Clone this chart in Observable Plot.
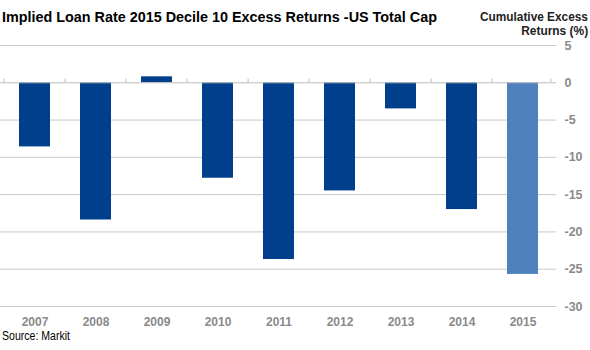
<!DOCTYPE html>
<html>
<head>
<meta charset="utf-8">
<script src="https://cdn.jsdelivr.net/npm/d3@7"></script>
<script src="https://cdn.jsdelivr.net/npm/@observablehq/plot@0.6"></script>
<style>
  body { margin: 0; background: #fff; font-family: "Liberation Sans", Arial, sans-serif; }
  #wrap { position: relative; width: 590px; height: 350px; overflow: hidden; }
  #wrap svg { position: absolute; left: 0; top: 0; }
  .txt { position: absolute; white-space: nowrap; }
  #title { left: 2px; top: 9px; font-size: 14.5px; font-weight: bold; color: #000; transform-origin: 0 0; }
  #unit1 { right: 2px; top: 11px; font-size: 12.5px; line-height: 12px; font-weight: bold; color: #222; transform-origin: 100% 0; }
  #unit2 { right: 2px; top: 25px; font-size: 12.5px; line-height: 12px; font-weight: bold; color: #222; transform-origin: 100% 0; }
  #source { left: 2px; top: 329px; font-size: 12.5px; color: #000; transform-origin: 0 0; }
</style>
</head>
<body>
<div id="wrap"></div>
<script>
const years = ["2007","2008","2009","2010","2011","2012","2013","2014","2015"];
const values = [-8.6, -18.4, 0.8, -12.8, -23.7, -14.5, -3.5, -17.0, -25.7];
const yTicks = [5, 0, -5, -10, -15, -20, -25, -30];
const titleText = "Implied Loan Rate 2015 Decile 10 Excess Returns -US Total Cap";
const unitLines = ["Cumulative Excess", "Returns (%)"];
const sourceText = "Source: Markit";
const darkBlue = "#003f8c";
const lightBlue = "#4f81bd";

const data = years.map((y, i) => ({year: y, value: values[i]}));
const W = 590, H = 350, mL = 0, mR = 34;
const step = (W - mL - mR) / years.length;

const chart = Plot.plot({
  width: W,
  height: H,
  marginTop: 45,
  marginBottom: 44,
  marginLeft: mL,
  marginRight: mR,
  style: {fontFamily: "'Liberation Sans', Arial, sans-serif", background: "transparent"},
  x: {domain: years, paddingInner: 0.5, paddingOuter: 0.25},
  y: {domain: [-30, 5]},
  marks: [
    Plot.ruleY(yTicks.filter(d => d !== 0), {stroke: "#c8c8c8", strokeWidth: 1}),
    Plot.barY(data, {x: "year", y: "value", fill: d => d.year === "2015" ? lightBlue : darkBlue}),
    Plot.ruleY([0], {stroke: "#bdbdbd", strokeWidth: 1}),
    Plot.ruleX(years, {x: d => d, y1: 0, y2: 0.5, dx: -step / 2, stroke: "#bdbdbd"}),
    Plot.ruleX([years[years.length - 1]], {x: d => d, y1: 0, y2: 0.5, dx: step / 2 - 3, stroke: "#bdbdbd"}),
    Plot.axisY(yTicks, {anchor: "right", tickSize: 0, tickPadding: 8, tickFormat: d => String(d),
      fontSize: 12.5, fill: "#8a8a8a", fontWeight: "bold", label: null}),
    Plot.axisX({anchor: "bottom", tickSize: 0, tickPadding: 11, fontSize: 12, fill: "#8a8a8a",
      fontWeight: "bold", label: null})
  ]
});

const wrap = document.getElementById("wrap");
wrap.appendChild(chart);

function addText(id, text, target) {
  const d = document.createElement("div");
  d.id = id; d.className = "txt"; d.textContent = text;
  wrap.appendChild(d);
  const w = d.getBoundingClientRect().width;
  if (w > 0) d.style.transform = `scaleX(${target / w})`;
}
addText("title", titleText, 435);
addText("unit1", unitLines[0], 108);
addText("unit2", unitLines[1], 67);
addText("source", sourceText, 68);
</script>
</body>
</html>
